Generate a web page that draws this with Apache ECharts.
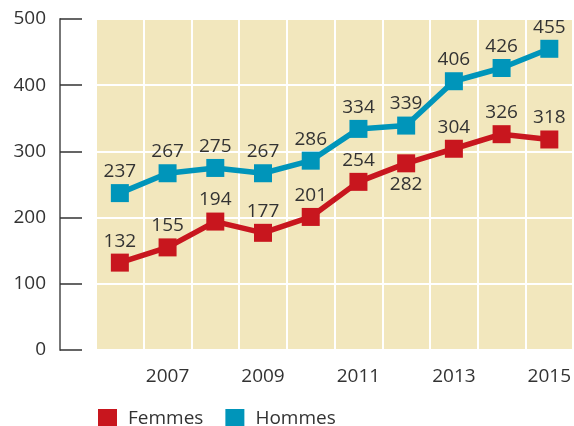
<!DOCTYPE html>
<html><head><meta charset="utf-8">
<script src="https://cdn.jsdelivr.net/npm/echarts@6/dist/echarts.min.js"></script>
<style>html,body{margin:0;padding:0;background:#fff}#c{width:574px;height:426px}</style>
</head><body><div id="c"></div>
<script>
var years = ['2006','2007','2008','2009','2010','2011','2012','2013','2014','2015'];
var femmes = [132,155,194,177,201,254,282,304,326,318];
var hommes = [237,267,275,267,286,334,339,406,426,455];
var yTicks = [0,100,200,300,400,500];
var femmesBelow = [false,false,false,false,false,false,true,false,false,false];

var font = '"Open Sans", "Noto Sans", sans-serif';
var chart = echarts.init(document.getElementById('c'));
var lbl = {show:true, position:'top', distance:3, fontSize:19, color:'#333', fontFamily:font};
chart.setOption({
  animation:false,
  grid:{left:96, right:0, top:19, bottom:76, show:true, backgroundColor:'#f2e7bd', borderWidth:0},
  legend:{top:404, left:93, itemWidth:19, itemHeight:19, itemGap:22, icon:'rect',
    textStyle:{fontSize:19, color:'#333', fontFamily:font, padding:[0,0,0,6]},
    data:['Femmes','Hommes']},
  xAxis:{type:'category', data:years, boundaryGap:true,
    axisLine:{show:false}, axisTick:{show:false},
    splitLine:{show:true, interval:0, lineStyle:{color:'#fff', width:2}},
    axisLabel:{interval:0, margin:17, fontSize:19, color:'#333', fontFamily:font,
      formatter:function(v,i){return i%2===1?v:'';}}},
  yAxis:{type:'value', min:0, max:500, interval:100, offset:36,
    axisLine:{show:true, lineStyle:{color:'#777', width:2}},
    axisTick:{show:true, inside:true, length:22, lineStyle:{color:'#333', width:1.5}},
    splitLine:{show:true, lineStyle:{color:'#fff', width:2}},
    axisLabel:{margin:14, fontSize:19, color:'#333', fontFamily:font,
      formatter:function(v){return yTicks.indexOf(v)>=0?String(v):'';}}},
  series:[
    {name:'Femmes', type:'line', data:femmes.map(function(v,i){
        return femmesBelow[i]?{value:v,label:{position:'bottom'}}:v;}),
      color:'#c8161e', lineStyle:{width:5.5}, symbol:'rect', symbolSize:18,
      itemStyle:{color:'#c8161e'}, label:lbl, z:3},
    {name:'Hommes', type:'line', data:hommes,
      color:'#0095ba', lineStyle:{width:5.5}, symbol:'rect', symbolSize:18,
      itemStyle:{color:'#0095ba'}, label:lbl, z:3}
  ]
});
</script></body></html>
